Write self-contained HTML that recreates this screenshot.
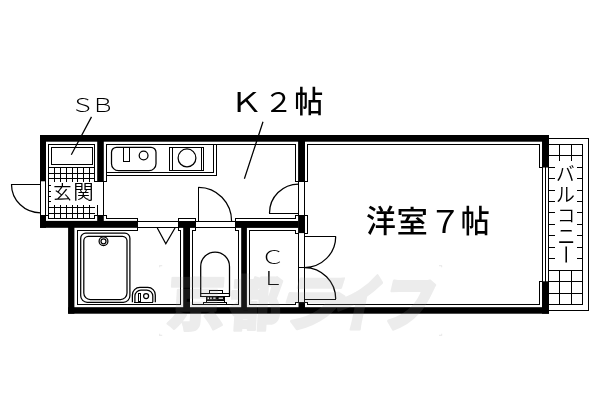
<!DOCTYPE html>
<html lang="ja"><head><meta charset="utf-8"><title>間取り図</title>
<style>
html,body{margin:0;padding:0;background:#fff;}
body{width:600px;height:400px;overflow:hidden;font-family:"Liberation Sans","Noto Sans CJK JP",sans-serif;}
svg{display:block;}
text{font-family:"Liberation Sans","Noto Sans CJK JP",sans-serif;}
</style></head><body>
<svg width="600" height="400" viewBox="0 0 600 400">
<rect width="600" height="400" fill="#fff"/>
<g fill="#000">
<rect x="40" y="135" width="509" height="6.7"/>
<rect x="40" y="135" width="6" height="46.3"/>
<rect x="97.2" y="135" width="6.6" height="46.3"/>
<rect x="40" y="215" width="6" height="12.8"/>
<rect x="40" y="220.9" width="97.6" height="6.9"/>
<rect x="97.2" y="215.3" width="6.6" height="6.7"/>
<rect x="68.1" y="227" width="6.3" height="86.7"/>
<rect x="68.1" y="307.2" width="480.9" height="6.5"/>
<rect x="178" y="221" width="18" height="6.9"/>
<rect x="183.2" y="227" width="6.8" height="81"/>
<rect x="235" y="221" width="63.5" height="6.9"/>
<rect x="241.2" y="227" width="5.7" height="81"/>
<rect x="298.1" y="215.6" width="6.9" height="17.5"/>
<rect x="298.1" y="141" width="6.9" height="40.3"/>
<rect x="298.5" y="302" width="6.5" height="6"/>
<rect x="542" y="135" width="7" height="32.5"/>
<rect x="542" y="281.3" width="7" height="32.4"/>
</g>
<path fill="none" stroke="#000" stroke-width="1" stroke-linecap="square" shape-rendering="crispEdges" d="M48.5 144.5 L48.5 218.5 L94.5 218.5 L94.5 215.5 L97.5 215.5 M48.5 144.5 L94.5 144.5 L94.5 181.5 M51.5 147.5 L92.5 147.5 L92.5 164.5 L51.5 164.5 L51.5 147.5 M48.5 167.5 L94.5 167.5 M48.5 173.5 L94.5 173.5 M48.5 178.5 L94.5 178.5 M54.5 167.5 L54.5 181.5 M54.5 205.5 L54.5 218.5 M60.5 167.5 L60.5 181.5 M60.5 205.5 L60.5 218.5 M66.5 167.5 L66.5 181.5 M66.5 205.5 L66.5 218.5 M72.5 167.5 L72.5 181.5 M72.5 205.5 L72.5 218.5 M77.5 167.5 L77.5 181.5 M77.5 205.5 L77.5 218.5 M83.5 167.5 L83.5 181.5 M83.5 205.5 L83.5 218.5 M89.5 167.5 L89.5 181.5 M89.5 205.5 L89.5 218.5 M48.5 207.5 L94.5 207.5 M48.5 213.5 L94.5 213.5 M97.5 205.5 L97.5 215.5 M103.5 181.5 L103.5 215.5 M48.5 185.5 L50.5 185.5 M48.5 191.5 L50.5 191.5 M48.5 196.5 L50.5 196.5 M48.5 201.5 L50.5 201.5 M40.5 181.5 L40.5 215.5 M45.5 181.5 L45.5 215.5 M45.5 215.5 L48.5 215.5 M11.5 184.5 L40.5 184.5 M94.5 181.5 L106.5 181.5 L106.5 144.5 L295.5 144.5 L295.5 181.5 L307.5 181.5 L307.5 144.5 L539.5 144.5 L539.5 167.5 L542.5 167.5 M97.5 215.5 L106.5 215.5 L106.5 218.5 M106.5 218.5 L137.5 218.5 L137.5 230.5 L77.5 230.5 L77.5 304.5 L180.5 304.5 L180.5 230.5 L178.5 230.5 L178.5 227.5 M137.5 221.5 L178.5 221.5 M137.5 227.5 L178.5 227.5 M195.5 221.5 L235.5 221.5 M195.5 227.5 L235.5 227.5 M178.5 221.5 L178.5 218.5 L195.5 218.5 L195.5 221.5 M195.5 227.5 L195.5 230.5 L192.5 230.5 L192.5 304.5 L238.5 304.5 L238.5 230.5 L235.5 230.5 L235.5 227.5 M235.5 221.5 L235.5 218.5 L295.5 218.5 L295.5 215.5 L307.5 215.5 L307.5 233.5 L305.5 233.5 M298.5 233.5 L295.5 233.5 L295.5 230.5 L249.5 230.5 L249.5 304.5 L295.5 304.5 L295.5 302.5 L298.5 302.5 M298.5 233.5 L298.5 302.5 M304.5 233.5 L304.5 302.5 M298.5 267.5 L304.5 267.5 M298.5 181.5 L298.5 215.5 M304.5 181.5 L304.5 215.5 M269.5 213.5 L298.5 213.5 M198.5 187.5 L198.5 221.5 M304.5 236.5 L335.5 236.5 M304.5 299.5 L335.5 299.5 M305.5 302.5 L307.5 302.5 L307.5 304.5 L539.5 304.5 L539.5 281.5 L542.5 281.5 M542.5 167.5 L542.5 281.5 M545.5 167.5 L545.5 281.5 M548.5 167.5 L548.5 281.5 M106.5 172.5 L213.5 172.5 L213.5 144.5 M106.5 175.5 L216.5 175.5 L216.5 144.5 M123.5 147.5 L123.5 161.5 L129.5 161.5 L129.5 147.5 M169.5 147.5 L203.5 147.5 L203.5 170.5 L169.5 170.5 L169.5 147.5 M172.5 147.5 L172.5 170.5 M201.5 147.5 L201.5 170.5 M138.5 301.5 L138.5 293.5 L140.5 293.5 L140.5 301.5 L138.5 301.5 M134.5 302.5 L152.5 302.5 M200.5 293.5 L229.5 293.5 M200.5 296.5 L229.5 296.5 M209.5 293.5 L209.5 290.5 L222.5 290.5 L222.5 293.5 M206.5 296.5 L206.5 302.5 L224.5 302.5 L224.5 296.5 M206.5 300.5 L224.5 300.5 M203.5 304.5 L203.5 302.5 L226.5 302.5 L226.5 304.5 M549.5 138.5 L588.5 138.5 L588.5 310.5 L549.5 310.5 M549.5 144.5 L582.5 144.5 L582.5 304.5 L549.5 304.5 M549.5 155.5 L582.5 155.5 M549.5 167.5 L554.5 167.5 M577.5 167.5 L582.5 167.5 M549.5 178.5 L554.5 178.5 M577.5 178.5 L582.5 178.5 M549.5 190.5 L554.5 190.5 M577.5 190.5 L582.5 190.5 M549.5 201.5 L554.5 201.5 M577.5 201.5 L582.5 201.5 M549.5 212.5 L554.5 212.5 M577.5 212.5 L582.5 212.5 M549.5 224.5 L554.5 224.5 M577.5 224.5 L582.5 224.5 M549.5 235.5 L554.5 235.5 M577.5 235.5 L582.5 235.5 M549.5 247.5 L554.5 247.5 M577.5 247.5 L582.5 247.5 M549.5 258.5 L554.5 258.5 M577.5 258.5 L582.5 258.5 M549.5 270.5 L582.5 270.5 M549.5 281.5 L582.5 281.5 M549.5 293.5 L582.5 293.5 M559.5 144.5 L559.5 160.5 M559.5 270.5 L559.5 304.5 M571.5 144.5 L571.5 160.5 M571.5 270.5 L571.5 304.5"/>
<path fill="none" stroke="#000" stroke-width="1.25" d="M11.5 184.5 A29.2 28.3 0 0 0 40.7 212.8 M91.5 116.9 L71.3 154.8 M269.5 213 A29.1 29 0 0 1 298.6 184 M198.5 187.3 A33 34 0 0 1 231.6 221.4 M335.7 236.5 A31.2 31 0 0 1 304.5 267.5 M304.5 267.5 A31.2 31.5 0 0 1 335.7 299 M263 121.8 L244.4 178.8 M116.5 147.3 H151 A5 5 0 0 1 156 152.3 V163.7 A7 7 0 0 1 149 170.7 H118.5 A7 7 0 0 1 111.5 163.7 V152.3 A5 5 0 0 1 116.5 147.3 Z M148 155.5 A4.4 4.4 0 1 1 139.2 155.5 A4.4 4.4 0 1 1 148 155.5 Z M195.9 157.9 A8.9 8.9 0 1 1 178.1 157.9 A8.9 8.9 0 1 1 195.9 157.9 Z M157.3 228 L165.8 243.8 L175 228 M85.7 233.2 H124.9 A5 5 0 0 1 129.9 238.2 V295.8 A6.5 6.5 0 0 1 123.4 302.3 H87.2 A6.5 6.5 0 0 1 80.7 295.8 V238.2 A5 5 0 0 1 85.7 233.2 Z M88.3 236.3 H122.5 A4.5 4.5 0 0 1 127 240.8 V293.0 A6.5 6.5 0 0 1 120.5 299.5 H90.3 A6.5 6.5 0 0 1 83.8 293.0 V240.8 A4.5 4.5 0 0 1 88.3 236.3 Z M107.9 241.3 A4.4 4.4 0 1 1 99.1 241.3 A4.4 4.4 0 1 1 107.9 241.3 Z M106 241.3 A2.5 2.5 0 1 1 101 241.3 A2.5 2.5 0 1 1 106 241.3 Z M132.4 302.3 V295 A7.5 7.5 0 0 1 139.9 287.4 H147.8 A7.5 7.5 0 0 1 155.3 295 V302.3 M134.9 302.3 V296 A6 6 0 0 1 140.9 290.1 H146.8 A6 6 0 0 1 152.8 296 V302.3 M148.6 296 A2.5 2.5 0 1 1 143.6 296 A2.5 2.5 0 1 1 148.6 296 Z M200.7 296.3 V266.4 A14.4 14.4 0 0 1 229.5 266.4 V296.3"/>
<rect x="206.4" y="296.4" width="18.1" height="3.5" fill="#000"/>
<g fill="#fff"><rect x="207.5" y="297.4" width="1.5" height="1.7"/><rect x="210.2" y="297.4" width="1.5" height="1.7"/><rect x="213.2" y="297.5" width="2.4" height="1.3"/><rect x="218.6" y="297.6" width="4.4" height="1.2"/></g>
<g fill="#000" opacity="0.999">
<text transform="translate(70.57 111.62) scale(1 0.776)" font-size="24.14" font-weight="300">Ｓ</text>
<text transform="translate(91.00 111.90) scale(1 0.821)" font-size="23.60" font-weight="300">Ｂ</text>
<text transform="translate(229.62 111.50) scale(1 0.819)" font-size="33.39" font-weight="400">Ｋ</text>
<text transform="translate(264.09 111.50) scale(1 0.925)" font-size="29.16" font-weight="400">２</text>
<text transform="translate(294.36 112.26) scale(1 1.031)" font-size="29.00" font-weight="500">帖</text>
<text transform="translate(53.30 199.41) scale(1 1.019)" font-size="18.31" font-weight="350">玄</text>
<text transform="translate(73.16 199.42) scale(1 0.962)" font-size="20.48" font-weight="350">関</text>
<text transform="translate(366.05 232.31) scale(1 1.018)" font-size="29.89" font-weight="500">洋</text>
<text transform="translate(396.62 232.30) scale(1 0.953)" font-size="31.41" font-weight="500">室</text>
<text transform="translate(428.90 232.50) scale(1 0.942)" font-size="32.50" font-weight="400">７</text>
<text transform="translate(460.76 232.31) scale(1 1.049)" font-size="29.00" font-weight="500">帖</text>
<text transform="translate(260.77 263.52) scale(1 0.768)" font-size="23.97" font-weight="300">Ｃ</text>
<text transform="translate(260.79 284.70) scale(1 0.798)" font-size="23.52" font-weight="300">Ｌ</text>
<text transform="translate(556.09 181.40) scale(1 1.047)" font-size="18.64" font-weight="350">バ</text>
<text transform="translate(555.99 202.21) scale(1 1.040)" font-size="18.86" font-weight="350">ル</text>
<text transform="translate(557.08 221.72) scale(1 0.985)" font-size="18.25" font-weight="350">コ</text>
<text transform="translate(557.62 243.90) scale(1 1.216)" font-size="17.72" font-weight="350">ニ</text>
<text transform="translate(557.85 244.39) rotate(90)" font-size="20.13" font-weight="350">ー</text></g>

<g fill="#909090" stroke="#909090" stroke-linejoin="round" opacity="0.17">
<clipPath id="kc"><rect x="150" y="276.4" width="100" height="70"/></clipPath>
<g clip-path="url(#kc)"><text transform="translate(166.60 324.88) scale(0.5696 0.6112) skewX(-4)" font-size="100" font-weight="900" stroke-width="4">京</text></g>
<text transform="translate(228.48 325.08) scale(0.5192 0.5929) skewX(-4)" font-size="100" font-weight="900" stroke-width="4">都</text>
<text transform="translate(271.35 324.64) scale(0.6977 0.5955) skewX(-15)" font-size="100" font-weight="900" stroke-width="4">ラ</text>
<text transform="translate(329.22 326.20) scale(0.4845 0.6141) skewX(-15)" font-size="100" font-weight="900" stroke-width="4">イ</text>
<text transform="translate(376.77 325.61) scale(0.5385 0.6107) skewX(-15)" font-size="100" font-weight="900" stroke-width="4">フ</text>
<path fill="none" stroke-width="1.2" d="M159.6 267.2 V265.6 H162.2 M439 265.6 H441.6 V267.2 M159.6 333.8 V335.4 H162.2 M439 335.4 H441.6 V333.8"/>
</g>
</svg>
</body></html>
